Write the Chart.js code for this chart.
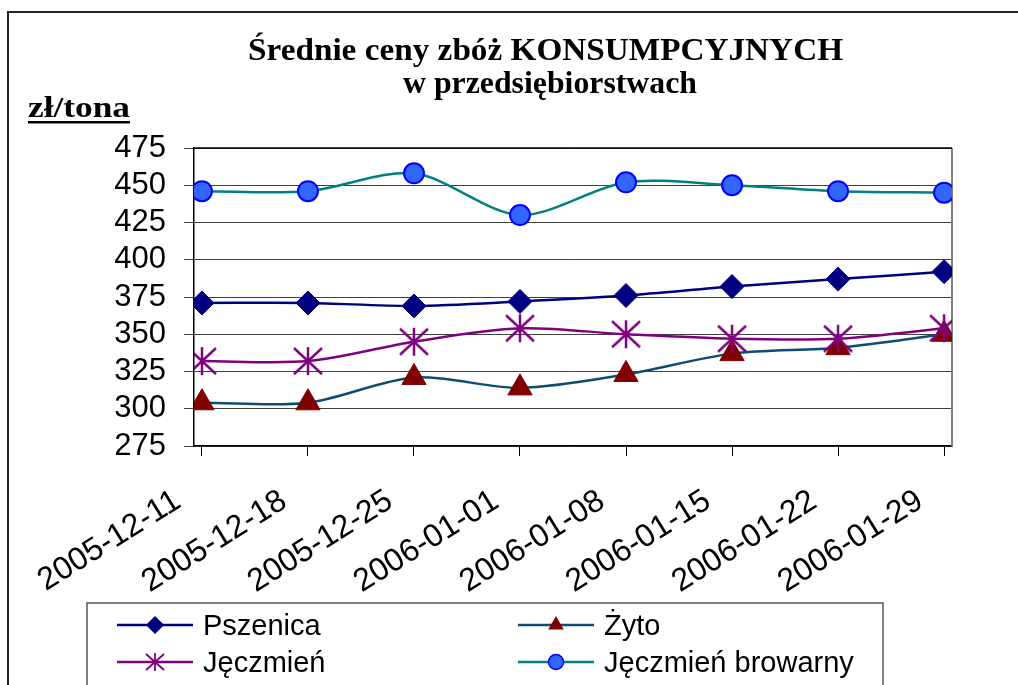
<!DOCTYPE html>
<html>
<head>
<meta charset="utf-8">
<script src="https://cdn.jsdelivr.net/npm/chart.js@4/dist/chart.umd.min.js"></script>
<style>
  html, body { margin: 0; padding: 0; background: #fff; overflow: hidden; }
  #wrap { width: 1018px; height: 685px; }
</style>
</head>
<body>
<div id="wrap"><canvas id="myChart"></canvas></div>
<script>
// data
const labels = ['2005-12-11', '2005-12-18', '2005-12-25', '2006-01-01',
                '2006-01-08', '2006-01-15', '2006-01-22', '2006-01-29'];
const pszenica = [371, 371, 369, 372, 376, 382, 387, 392];
const zyto     = [304, 304, 321, 314, 323, 337, 341, 350];
const jeczmien = [332, 332, 345, 354, 350, 347, 347, 354];
const browarny = [446, 446, 458, 430, 452, 450, 446, 445];
const seriesNames = ['Pszenica', 'Żyto', 'Jęczmień', 'Jęczmień browarny'];
const yTicks = [275, 300, 325, 350, 375, 400, 425, 450, 475];

const titleLine1 = 'Średnie ceny zbóż KONSUMPCYJNYCH';
const titleLine2 = 'w przedsiębiorstwach';
const unitLabel = 'zł/tona';

const sans = '"Liberation Sans", Arial, sans-serif';
const serif = '"Liberation Serif", "Times New Roman", serif';

// asterisk marker like the old Excel one (vertical bar + X)
function makeStar(size, color, lw) {
  const c = document.createElement('canvas');
  c.width = size; c.height = size;
  const g = c.getContext('2d');
  g.strokeStyle = color;
  g.lineWidth = lw;
  const m = size / 2, a = 1, b = size - 1;
  g.beginPath();
  g.moveTo(m, a); g.lineTo(m, b);
  g.moveTo(a, a + 1); g.lineTo(b, b - 1);
  g.moveTo(b, a + 1); g.lineTo(a, b - 1);
  g.stroke();
  return c;
}
const starBig = makeStar(30, '#800080', 2.5);
const starSmall = makeStar(20, '#800080', 1.8);

function toPoints(arr) {
  return arr.map((v, i) => ({ x: i, y: v }));
}

function fitText(ctx, text, left, right, baseline, font) {
  ctx.font = font;
  const w = ctx.measureText(text).width;
  ctx.save();
  ctx.translate(left, baseline);
  ctx.scale((right - left) / w, 1);
  ctx.textAlign = 'left';
  ctx.textBaseline = 'alphabetic';
  ctx.fillText(text, 0, 0);
  ctx.restore();
}

const legendMarkers = [
  { pointStyle: 'rectRot', radius: 8, fill: '#000080', stroke: '#000080' },
  { pointStyle: 'triangle', radius: 7.5, fill: '#800000', stroke: '#800000' },
  { pointStyle: starSmall, radius: 9, fill: '#800080', stroke: '#800080' },
  { pointStyle: 'circle', radius: 7.5, fill: '#3366FF', stroke: '#0000FF' }
];

const decor = {
  id: 'decor',
  beforeDraw(chart) {
    const ctx = chart.ctx;
    ctx.save();
    ctx.fillStyle = '#fff';
    ctx.fillRect(0, 0, chart.width, chart.height);
    // outer frame (only top and left are visible)
    ctx.strokeStyle = '#222';
    ctx.lineWidth = 2;
    ctx.beginPath();
    ctx.moveTo(8, 690); ctx.lineTo(8, 12); ctx.lineTo(1020, 12);
    ctx.stroke();
    ctx.restore();
  },
  beforeDatasetsDraw(chart) {
    const ctx = chart.ctx;
    const a = chart.chartArea;
    ctx.save();
    ctx.strokeStyle = '#808080';
    ctx.lineWidth = 2;
    ctx.beginPath();
    ctx.moveTo(a.right, a.top); ctx.lineTo(a.right, a.bottom);
    ctx.stroke();
    ctx.strokeStyle = '#000';
    ctx.lineWidth = 1.5;
    ctx.beginPath();
    ctx.moveTo(a.left, a.top); ctx.lineTo(a.right, a.top);
    ctx.stroke();
    ctx.restore();
  },
  afterDraw(chart) {
    const ctx = chart.ctx;
    ctx.save();
    ctx.fillStyle = '#000';
    // title
    fitText(ctx, titleLine1, 248, 843, 60, 'bold 31px ' + serif);
    fitText(ctx, titleLine2, 403, 697, 93, 'bold 31px ' + serif);
    // unit label, underlined
    fitText(ctx, unitLabel, 28, 130, 117, 'bold 29px ' + serif);
    ctx.fillRect(28, 121, 102, 2.5);

    // legend box
    ctx.strokeStyle = '#555';
    ctx.lineWidth = 1.5;
    ctx.strokeRect(87, 603, 796, 120);

    const cols = [117, 518];
    const rows = [625, 662];
    chart.data.datasets.forEach((ds, i) => {
      const x0 = cols[i % 2];
      const y0 = rows[Math.floor(i / 2)];
      ctx.strokeStyle = ds.borderColor;
      ctx.lineWidth = ds.borderWidth;
      ctx.beginPath();
      ctx.moveTo(x0, y0); ctx.lineTo(x0 + 76, y0);
      ctx.stroke();
      const mk = legendMarkers[i];
      ctx.fillStyle = mk.fill;
      ctx.strokeStyle = mk.stroke;
      ctx.lineWidth = 1.5;
      Chart.helpers.drawPoint(ctx, { pointStyle: mk.pointStyle, radius: mk.radius, rotation: 0, borderWidth: 1.5 }, x0 + 38, y0);
      ctx.fillStyle = '#000';
      ctx.font = '29px ' + sans;
      ctx.textAlign = 'left';
      ctx.textBaseline = 'alphabetic';
      ctx.fillText(ds.label, x0 + 86, y0 + 10);
    });
    ctx.restore();
  }
};

const data = {
  datasets: [{
    label: seriesNames[0],
    data: toPoints(pszenica),
    borderColor: '#000080',
    borderWidth: 2.5,
    pointStyle: 'rectRot',
    pointRadius: 12,
    pointBackgroundColor: '#000080',
    pointBorderColor: '#000080',
    pointBorderWidth: 1,
    tension: 0.3,
    order: 4
  }, {
    label: seriesNames[1],
    data: toPoints(zyto),
    borderColor: '#0F4C70',
    borderWidth: 2.5,
    pointStyle: 'triangle',
    pointRadius: 14,
    pointBackgroundColor: '#800000',
    pointBorderColor: '#800000',
    pointBorderWidth: 1,
    tension: 0.3,
    order: 3
  }, {
    label: seriesNames[2],
    data: toPoints(jeczmien),
    borderColor: '#800080',
    borderWidth: 2.5,
    pointStyle: starBig,
    pointRadius: 14,
    pointBackgroundColor: '#800080',
    pointBorderColor: '#800080',
    tension: 0.3,
    order: 2
  }, {
    label: seriesNames[3],
    data: toPoints(browarny),
    borderColor: '#008080',
    borderWidth: 2.5,
    pointStyle: 'circle',
    pointRadius: 10,
    pointBackgroundColor: '#3366FF',
    pointBorderColor: '#0000FF',
    pointBorderWidth: 2,
    tension: 0.3,
    order: 1
  }]
};

const config = {
  type: 'line',
  data: data,
  plugins: [decor],
  options: {
    responsive: true,
    maintainAspectRatio: false,
    animation: false,
    events: [],
    layout: { padding: { top: 148, right: 66, left: 0, bottom: 0 } },
    plugins: {
      legend: { display: false },
      title: { display: false },
      tooltip: { enabled: false }
    },
    scales: {
      x: {
        type: 'linear',
        min: -0.075,
        max: 7.075,
        afterBuildTicks: (s) => { s.ticks = labels.map((_, i) => ({ value: i })); },
        afterFit: (s) => { s.height = 239; },
        ticks: {
          autoSkip: false,
          minRotation: 32,
          maxRotation: 32,
          padding: 26,
          labelOffset: -24,
          color: '#000',
          font: { family: sans, size: 32 },
          callback: (v) => labels[v]
        },
        grid: { drawOnChartArea: false, drawTicks: true, tickLength: 10, color: '#000' },
        border: { color: '#000', width: 1.5 }
      },
      y: {
        min: yTicks[0],
        max: yTicks[yTicks.length - 1],
        afterBuildTicks: (s) => { s.ticks = yTicks.map(v => ({ value: v })); },
        afterFit: (s) => { s.width = 194; },
        ticks: {
          autoSkip: false,
          padding: 18,
          color: '#000',
          font: { family: sans, size: 31 }
        },
        grid: { color: '#404040', lineWidth: 1, tickLength: 10 },
        border: { color: '#000', width: 1.5 }
      }
    }
  }
};

const myChart = new Chart(document.getElementById('myChart'), config);
</script>
</body>
</html>
